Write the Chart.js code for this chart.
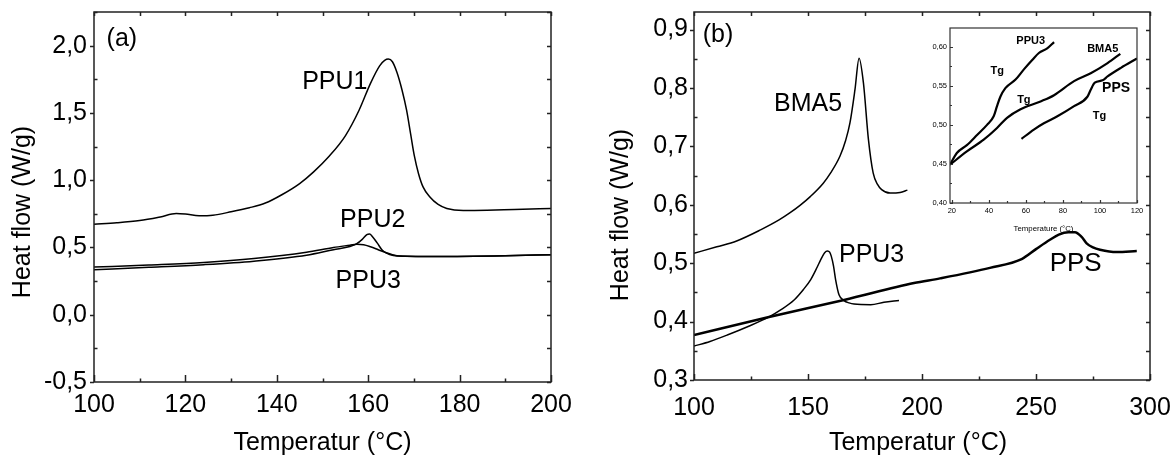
<!DOCTYPE html>
<html>
<head>
<meta charset="utf-8">
<script src="https://cdn.jsdelivr.net/npm/chart.js@4.4.0/dist/chart.umd.min.js"></script>
<style>
body{margin:0;background:#fff;}
#wrap{position:relative;width:1175px;height:457px;overflow:hidden;background:#fff;}
canvas{position:absolute;}
#chartA{left:0;top:0;}
#chartB{left:575px;top:0;}
#chartC{left:900px;top:15px;}
</style>
</head>
<body>
<div id="wrap">
<canvas id="chartA" width="575" height="457"></canvas>
<canvas id="chartB" width="600" height="457"></canvas>
<canvas id="chartC" width="250" height="225"></canvas>
</div>
<script>
const FONT = 'Arial, "Liberation Sans", sans-serif';

// ---- panel (a) ----
const aXTicks = [100, 120, 140, 160, 180, 200];
const aYTicks = [-0.5, 0, 0.5, 1, 1.5, 2];
const ppu1T = [100,105,110,114.5,118,120,123,126,130,134,137.5,141,145,148,151.5,155,158,160.5,162.5,163.6,164.4,165.3,166.3,167.4,168.4,169.3,170.1,171,172,173.5,175.3,177.2,180.8,186,192,200];
const ppu1Y = [0.672,0.683,0.700,0.727,0.752,0.748,0.736,0.740,0.765,0.795,0.830,0.89,0.975,1.06,1.18,1.33,1.52,1.72,1.85,1.89,1.90,1.88,1.80,1.67,1.52,1.34,1.18,1.05,0.95,0.875,0.82,0.79,0.775,0.777,0.783,0.790];
const ppu2T = [100,112,124,135,146.5,152.4,156,157.5,158.7,159.7,160.3,160.9,162,163,164,165.5,168,175,190,200];
const ppu2Y = [0.334,0.352,0.372,0.398,0.442,0.483,0.507,0.528,0.56,0.595,0.60,0.582,0.532,0.483,0.458,0.44,0.434,0.432,0.438,0.446];
const ppu3aT = [100,112,124,135,146.5,152.4,156,157.5,159,160.5,162.2,163.8,165.3,167,175,190,200];
const ppu3aY = [0.354,0.370,0.389,0.418,0.465,0.50,0.517,0.524,0.52,0.505,0.483,0.462,0.446,0.436,0.432,0.438,0.446];
const aLabelText = ['(a)', 'PPU1', 'PPU2', 'PPU3'];
const aLabelX = [106.1, 152.7, 161, 160];
const aLabelY = [2.05, 1.73, 0.70, 0.25];

// ---- panel (b) ----
const bXTicks = [100, 150, 200, 250, 300];
const bYTicks = [0.3, 0.4, 0.5, 0.6, 0.7, 0.8, 0.9];
const bma5T = [100,110,118.7,129.2,137.3,142,146.5,151,156.7,160,164,166.5,168.4,170.6,172.4,174.3,176.5,178.6,180.5,182.3,186,190.4,193.6];
const bma5Y = [0.517,0.528,0.538,0.557,0.574,0.586,0.599,0.614,0.637,0.655,0.683,0.71,0.740,0.797,0.851,0.809,0.712,0.654,0.635,0.626,0.620,0.621,0.625];
const ppu3bT = [100,107,114.6,124,132.9,138,143.9,148,151.2,154,155.6,157.3,158.5,159.5,160.2,161.2,162.1,163.6,165.8,168,170.2,177.5,183.3,189.9];
const ppu3bY = [0.358,0.366,0.377,0.392,0.408,0.42,0.437,0.455,0.472,0.493,0.506,0.518,0.521,0.519,0.512,0.495,0.472,0.446,0.436,0.432,0.430,0.429,0.433,0.436];
const ppsT = [100,132.9,165.8,196.5,207.9,229.8,243.7,250,256.1,260,264.2,267.1,270,272.2,275,278.1,285.4,294.2];
const ppsY = [0.377,0.408,0.437,0.466,0.474,0.492,0.507,0.524,0.540,0.549,0.553,0.553,0.545,0.534,0.527,0.523,0.519,0.521];
const bLabelText = ['(b)', 'BMA5', 'PPU3', 'PPS'];
const bLabelX = [110.5, 150, 177.9, 267.4];
const bLabelY = [0.890, 0.773, 0.513, 0.499];

// ---- inset ----
const cXTicks = [20, 40, 60, 80, 100, 120];
const cYTicks = [0.40, 0.45, 0.50, 0.55, 0.60];
const inPpu3T = [19,22.7,28.1,33.6,39,42.6,44.4,46.2,48.9,54.4,58.9,63.4,67,71.5,75.2];
const inPpu3Y = [0.449,0.464,0.474,0.487,0.500,0.511,0.524,0.536,0.547,0.558,0.571,0.583,0.592,0.598,0.606];
const inBma5T = [19,28.1,37.2,44.4,49.8,57.1,67.9,75.2,86,95,104.1,111];
const inBma5Y = [0.449,0.466,0.481,0.496,0.509,0.520,0.530,0.538,0.556,0.566,0.579,0.591];
const inPpsT = [57.6,64.3,69.7,77,86,93.2,95,97.2,101.4,104.1,111.3,120];
const inPpsY = [0.482,0.494,0.502,0.511,0.524,0.536,0.545,0.554,0.557,0.562,0.573,0.585];
const cLabelText = ['PPU3', 'Tg', 'BMA5', 'Tg', 'PPS', 'Tg'];
const cLabelX = [62.6, 44.5, 101.5, 58.9, 108.7, 99.7];
const cLabelY = [0.608, 0.569, 0.597, 0.532, 0.547, 0.511];

function pts(xs, ys) { return xs.map((x, i) => ({x: x, y: ys[i]})); }
function comma(d) { return v => Number(v).toFixed(d).replace('.', ','); }
function line(label, xs, ys, w) {
    return {label: label, data: pts(xs, ys), borderColor: '#000', borderWidth: w,
        pointRadius: 0, fill: false, cubicInterpolationMode: 'monotone'};
}

// frame round the plot + inward ticks like the origin plot
const frameTicks = {
    id: 'frameTicks',
    afterDatasetsDraw(chart, args, o) {
        const {ctx, chartArea: a, scales: {x, y}} = chart;
        const steps = (min, max, step) => {
            const out = [];
            const start = Math.ceil(min / step - 1e-9);
            for (let i = start; i * step <= max + 1e-9; i++) out.push(+(i * step).toFixed(6));
            return out;
        };
        const isMaj = (list, v) => list.some(t => Math.abs(t - v) < 1e-6);
        ctx.save();
        ctx.strokeStyle = o.color;
        ctx.lineWidth = o.width;
        ctx.beginPath();
        steps(x.min, x.max, o.xStep).forEach(v => {
            const px = Math.round(x.getPixelForValue(v)) + 0.5;
            const L = isMaj(o.xMajor, v) ? o.major : o.minor;
            ctx.moveTo(px, a.bottom); ctx.lineTo(px, a.bottom - L);
            if (o.top) { ctx.moveTo(px, a.top); ctx.lineTo(px, a.top + o.top); }
        });
        steps(y.min, y.max, o.yStep).forEach(v => {
            const py = Math.round(y.getPixelForValue(v)) + 0.5;
            if (isMaj(o.yMajor, v)) {
                ctx.moveTo(a.left, py);
                ctx.lineTo(o.out ? a.left - o.out : a.left + o.major, py);
            } else {
                ctx.moveTo(a.left, py); ctx.lineTo(a.left + o.minor, py);
            }
            if (o.right) { ctx.moveTo(a.right, py); ctx.lineTo(a.right - o.right, py); }
        });
        ctx.stroke();
        ctx.strokeRect(a.left, a.top, a.width, a.height);
        ctx.restore();
    }
};

// curve names and axis titles
const notes = {
    id: 'notes',
    afterDraw(chart, args, o) {
        const {ctx, chartArea: a, scales: {x, y}} = chart;
        ctx.save();
        ctx.fillStyle = '#000';
        ctx.textAlign = 'center';
        ctx.textBaseline = 'middle';
        o.text.forEach((t, i) => {
            ctx.font = o.fonts[i] || o.fonts[0];
            ctx.fillText(t, x.getPixelForValue(o.xs[i]), y.getPixelForValue(o.ys[i]));
        });
        ctx.font = o.titleFont;
        if (o.xTitle) ctx.fillText(o.xTitle, (a.left + a.right) / 2 + o.xTitleDx, o.xTitleY);
        if (o.yTitle) {
            ctx.translate(o.yTitleX, (a.top + a.bottom) / 2 + o.yTitleDy);
            ctx.rotate(-Math.PI / 2);
            ctx.fillText(o.yTitle, 0, 0);
        }
        ctx.restore();
    }
};

function scales(o) {
    return {
        x: {
            type: 'linear', min: o.xMin, max: o.xMax,
            grid: {display: false, drawTicks: false}, border: {display: false},
            ticks: {font: {family: FONT, size: o.fs}, color: '#000', padding: o.xPad,
                maxRotation: 0, autoSkip: false, callback: v => String(v)},
            afterBuildTicks: s => { s.ticks = o.xTicks.map(v => ({value: v})); },
            afterFit: s => { s.height = o.xH; s.paddingLeft = 0; s.paddingRight = 0; }
        },
        y: {
            type: 'linear', min: o.yMin, max: o.yMax,
            grid: {display: false, drawTicks: false}, border: {display: false},
            ticks: {font: {family: FONT, size: o.fs}, color: '#000', padding: o.yPad,
                autoSkip: false, callback: comma(o.dec)},
            afterBuildTicks: s => { s.ticks = o.yTicks.map(v => ({value: v})); },
            afterFit: s => { s.width = o.yW; s.paddingTop = 0; s.paddingBottom = 0; }
        }
    };
}

function base(padding, sc, frame, note) {
    return {
        responsive: false, animation: false, devicePixelRatio: 1,
        layout: {padding: padding},
        scales: sc,
        plugins: {legend: {display: false}, tooltip: {enabled: false}, frameTicks: frame, notes: note}
    };
}

const big = '25px ' + FONT;

new Chart(document.getElementById('chartA'), {
    type: 'line',
    data: {datasets: [
        line('PPU1', ppu1T, ppu1Y, 1.5),
        line('PPU2', ppu2T, ppu2Y, 1.5),
        line('PPU3', ppu3aT, ppu3aY, 1.5)
    ]},
    options: base({top: 12, right: 24, left: 0, bottom: 0},
        scales({xMin: 100, xMax: 200, yMin: -0.5, yMax: 2.25, xTicks: aXTicks, yTicks: aYTicks,
            fs: 25, xPad: 8, yPad: 7, dec: 1, xH: 75, yW: 94}),
        {color: '#222', width: 1.5, xStep: 10, xMajor: aXTicks, yStep: 0.25, yMajor: aYTicks,
            major: 7, minor: 3.5, top: 4, out: 4, right: 4},
        {text: aLabelText, xs: aLabelX, ys: aLabelY, fonts: [big],
            titleFont: big, xTitle: 'Temperatur (°C)', xTitleDx: 0, xTitleY: 443,
            yTitle: 'Heat flow (W/g)', yTitleX: 23, yTitleDy: 15}),
    plugins: [frameTicks, notes]
});

new Chart(document.getElementById('chartB'), {
    type: 'line',
    data: {datasets: [
        line('BMA5', bma5T, bma5Y, 1.5),
        line('PPU3', ppu3bT, ppu3bY, 1.5),
        line('PPS', ppsT, ppsY, 2.5)
    ]},
    options: base({top: 12, right: 25, left: 0, bottom: 0},
        scales({xMin: 100, xMax: 300, yMin: 0.3, yMax: 0.93, xTicks: bXTicks, yTicks: bYTicks,
            fs: 25, xPad: 13, yPad: 6, dec: 1, xH: 77, yW: 119}),
        {color: '#222', width: 1.5, xStep: 25, xMajor: bXTicks, yStep: 0.05, yMajor: bYTicks,
            major: 6, minor: 3.5, top: 4, out: 4, right: 4},
        {text: bLabelText, xs: bLabelX, ys: bLabelY, fonts: [big, big, big, '26px ' + FONT],
            titleFont: big, xTitle: 'Temperatur (°C)', xTitleDx: -4, xTitleY: 443,
            yTitle: 'Heat flow (W/g)', yTitleX: 46, yTitleDy: 19}),
    plugins: [frameTicks, notes]
});

const small = 'bold 11px ' + FONT;
new Chart(document.getElementById('chartC'), {
    type: 'line',
    data: {datasets: [
        line('PPU3', inPpu3T, inPpu3Y, 2.2),
        line('BMA5', inBma5T, inBma5Y, 2.2),
        line('PPS', inPpsT, inPpsY, 2.2)
    ]},
    options: base({top: 13, right: 13, left: 0, bottom: 0},
        scales({xMin: 19, xMax: 120, yMin: 0.40, yMax: 0.624, xTicks: cXTicks, yTicks: cYTicks,
            fs: 7.5, xPad: 3, yPad: 3, dec: 2, xH: 37, yW: 50}),
        {color: '#333', width: 1.2, xStep: 10, xMajor: cXTicks, yStep: 0.025, yMajor: cYTicks,
            major: 3, minor: 2, top: 0, out: 0, right: 0},
        {text: cLabelText, xs: cLabelX, ys: cLabelY,
            fonts: [small, small, small, small, 'bold 14px ' + FONT, small],
            titleFont: '7.8px ' + FONT, xTitle: 'Temperature (°C)', xTitleDx: 0, xTitleY: 214}),
    plugins: [frameTicks, notes]
});
</script>
</body>
</html>
